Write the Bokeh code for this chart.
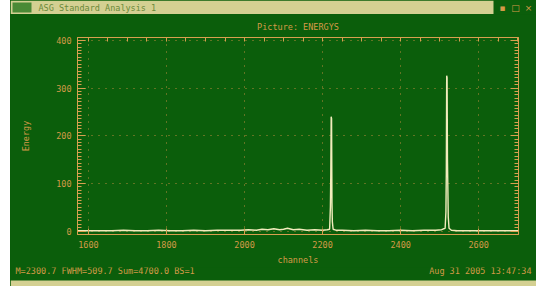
from bokeh.plotting import figure
from bokeh.layouts import column
from bokeh.models import (LinearAxis, SingleIntervalTicker, FixedTicker,
                          CustomLabelingPolicy, Range1d)
from bokeh.core.properties import value
from bokeh.embed import file_html
from bokeh.resources import INLINE

# ---- data ----
channels = [1572, 1600, 1630, 1660, 1690, 1720, 1750, 1780, 1810, 1840, 1870,
            1900, 1930, 1960, 1990, 2010, 2030, 2045, 2060, 2075, 2090, 2100,
            2110, 2125, 2140, 2160, 2180, 2200, 2212, 2218, 2220, 2221, 2222,
            2223, 2224, 2225, 2227, 2234, 2250, 2280, 2310, 2340, 2370, 2400,
            2430, 2460, 2490, 2505, 2510, 2514, 2516, 2517, 2518, 2519, 2520,
            2522, 2524, 2530, 2545, 2570, 2600, 2630, 2660, 2702]
counts = [1, 1, 1, 1, 2, 1, 1, 2, 1, 1, 2,
          1, 2, 2, 2, 3, 2, 4, 3, 5, 3, 4,
          6, 3, 4, 2, 3, 2, 3, 4, 50, 120, 240,
          236, 60, 20, 4, 2, 2, 1, 2, 1, 1, 2,
          1, 2, 2, 3, 5, 6, 40, 120, 326,
          322, 150, 30, 6, 2, 1, 1, 1, 1, 1, 1]
x_ticks = [1600, 1800, 2000, 2200, 2400, 2600]

title_text = "Picture: ENERGYS"
window_title = "ASG Standard Analysis 1"
status_left = "M=2300.7 FWHM=509.7 Sum=4700.0 BS=1"
status_right = "Aug 31 2005 13:47:34"
icons = ["▪", "□", "×"]

GREEN = "#0b5e0b"
ORANGE = "#d49a48"
FRAME = "#d8a050"
LINE = "#f2ecbc"
GRID = "#b88a3c"
CREAM = "#d4d092"
FONT = "DejaVu Sans Mono"
FS = "8.5px"

WIN_L, W = 10, 536          # window spans x 10..536 of the page
WW = W - WIN_L
BAR_H = 14                  # title bar height
MAIN_H = 253                # main chart height
BOT_H = 19                  # status / bottom border height


def blank(height, y0):
    f = figure(width=WW, height=height, x_range=(WIN_L, W),
               y_range=Range1d(y0 + height, y0), output_backend="svg",
               toolbar_location=None, min_border=0, frame_align=False,
               background_fill_color=GREEN, border_fill_color=GREEN,
               outline_line_color=None)
    f.axis.visible = False
    f.grid.visible = False
    return f


# ---- window title bar ----
bar = blank(BAR_H, 0)
bar.quad(left=[10], right=[493], top=[0], bottom=[14], fill_color=CREAM,
         line_color=None)
bar.quad(left=[12], right=[31], top=[2], bottom=[12], fill_color="#4a8a36",
         line_color=None)
bar.text(x=[38], y=[7.5], text=[window_title], text_color="#6a8a3a",
         text_font=value(FONT), text_font_size=FS, text_baseline="middle")
bar.text(x=[502, 515, 528], y=[7, 7, 7], text=icons, text_color=ORANGE,
         text_font=value("DejaVu Sans"), text_font_size="9px",
         text_align="center", text_baseline="middle")

# ---- main chart ----
p = figure(width=WW, height=MAIN_H, x_range=(1572, 2702), y_range=(-7, 406),
           output_backend="svg", toolbar_location=None, frame_align=False,
           min_border_left=67, min_border_right=18, min_border_top=23,
           min_border_bottom=31, title=title_text,
           background_fill_color=GREEN, border_fill_color=GREEN,
           outline_line_color=FRAME, outline_line_width=1)
p.title.align = "center"
p.title.text_color = ORANGE
p.title.text_font = FONT
p.title.text_font_size = FS
p.title.text_font_style = "normal"
p.title.standoff = 4

p.line(channels, counts, line_color=LINE, line_width=1.4)

xa = p.xaxis[0]
xa.ticker = FixedTicker(ticks=x_ticks)
xa.axis_label = "channels"
ya = p.yaxis[0]
ya.ticker = SingleIntervalTicker(interval=100, num_minor_ticks=14)
ya.axis_label = "Energy"
for ax in [xa, ya]:
    ax.axis_line_color = FRAME
    ax.major_tick_line_color = FRAME
    ax.minor_tick_line_color = FRAME
    ax.major_tick_out = 0
    ax.minor_tick_out = 0
    ax.major_label_text_color = ORANGE
    ax.major_label_text_font = FONT
    ax.major_label_text_font_size = FS
    ax.axis_label_text_color = ORANGE
    ax.axis_label_text_font = FONT
    ax.axis_label_text_font_size = FS
    ax.axis_label_text_font_style = "normal"
xa.major_tick_in = 6
xa.minor_tick_in = 0
xa.major_label_standoff = 6
xa.axis_label_standoff = 4
ya.major_tick_in = 8
ya.minor_tick_in = 4
ya.major_label_standoff = 6
ya.axis_label_standoff = 22

top = LinearAxis(ticker=SingleIntervalTicker(interval=50, num_minor_ticks=0),
                 major_label_policy=CustomLabelingPolicy(code="return new Set()"),
                 major_label_text_font_size="1px",
                 axis_line_color=FRAME, major_tick_line_color=FRAME,
                 major_tick_in=4, major_tick_out=0, minor_tick_in=0,
                 minor_tick_out=0, major_label_standoff=0)
p.add_layout(top, "above")
right = LinearAxis(ticker=SingleIntervalTicker(interval=100, num_minor_ticks=14),
                   major_label_policy=CustomLabelingPolicy(code="return new Set()"),
                   major_label_text_font_size="1px",
                   axis_line_color=FRAME, major_tick_line_color=FRAME,
                   minor_tick_line_color=FRAME, major_tick_in=8,
                   major_tick_out=0, minor_tick_in=4, minor_tick_out=0,
                   major_label_standoff=0)
p.add_layout(right, "right")

for g in [p.xgrid[0], p.ygrid[0]]:
    g.grid_line_color = GRID
    g.grid_line_dash = "1 6"

# ---- status line and bottom border ----
y_bot = BAR_H + MAIN_H
bot = blank(BOT_H, y_bot)
bot.quad(left=[10], right=[536], top=[y_bot + 13], bottom=[y_bot + BOT_H],
         fill_color=CREAM, line_color=None)
bot.text(x=[15], y=[y_bot + 3], text=[status_left], text_color=ORANGE,
         text_font=value(FONT), text_font_size=FS, text_baseline="middle")
bot.text(x=[531], y=[y_bot + 3], text=[status_right], text_color=ORANGE,
         text_font=value(FONT), text_font_size=FS, text_baseline="middle",
         text_align="right")

layout = column(bar, p, bot, spacing=0, margin=(0, 0, 0, WIN_L),
                styles={"background-color": GREEN})
open("out.html", "w").write(file_html(layout, INLINE))
